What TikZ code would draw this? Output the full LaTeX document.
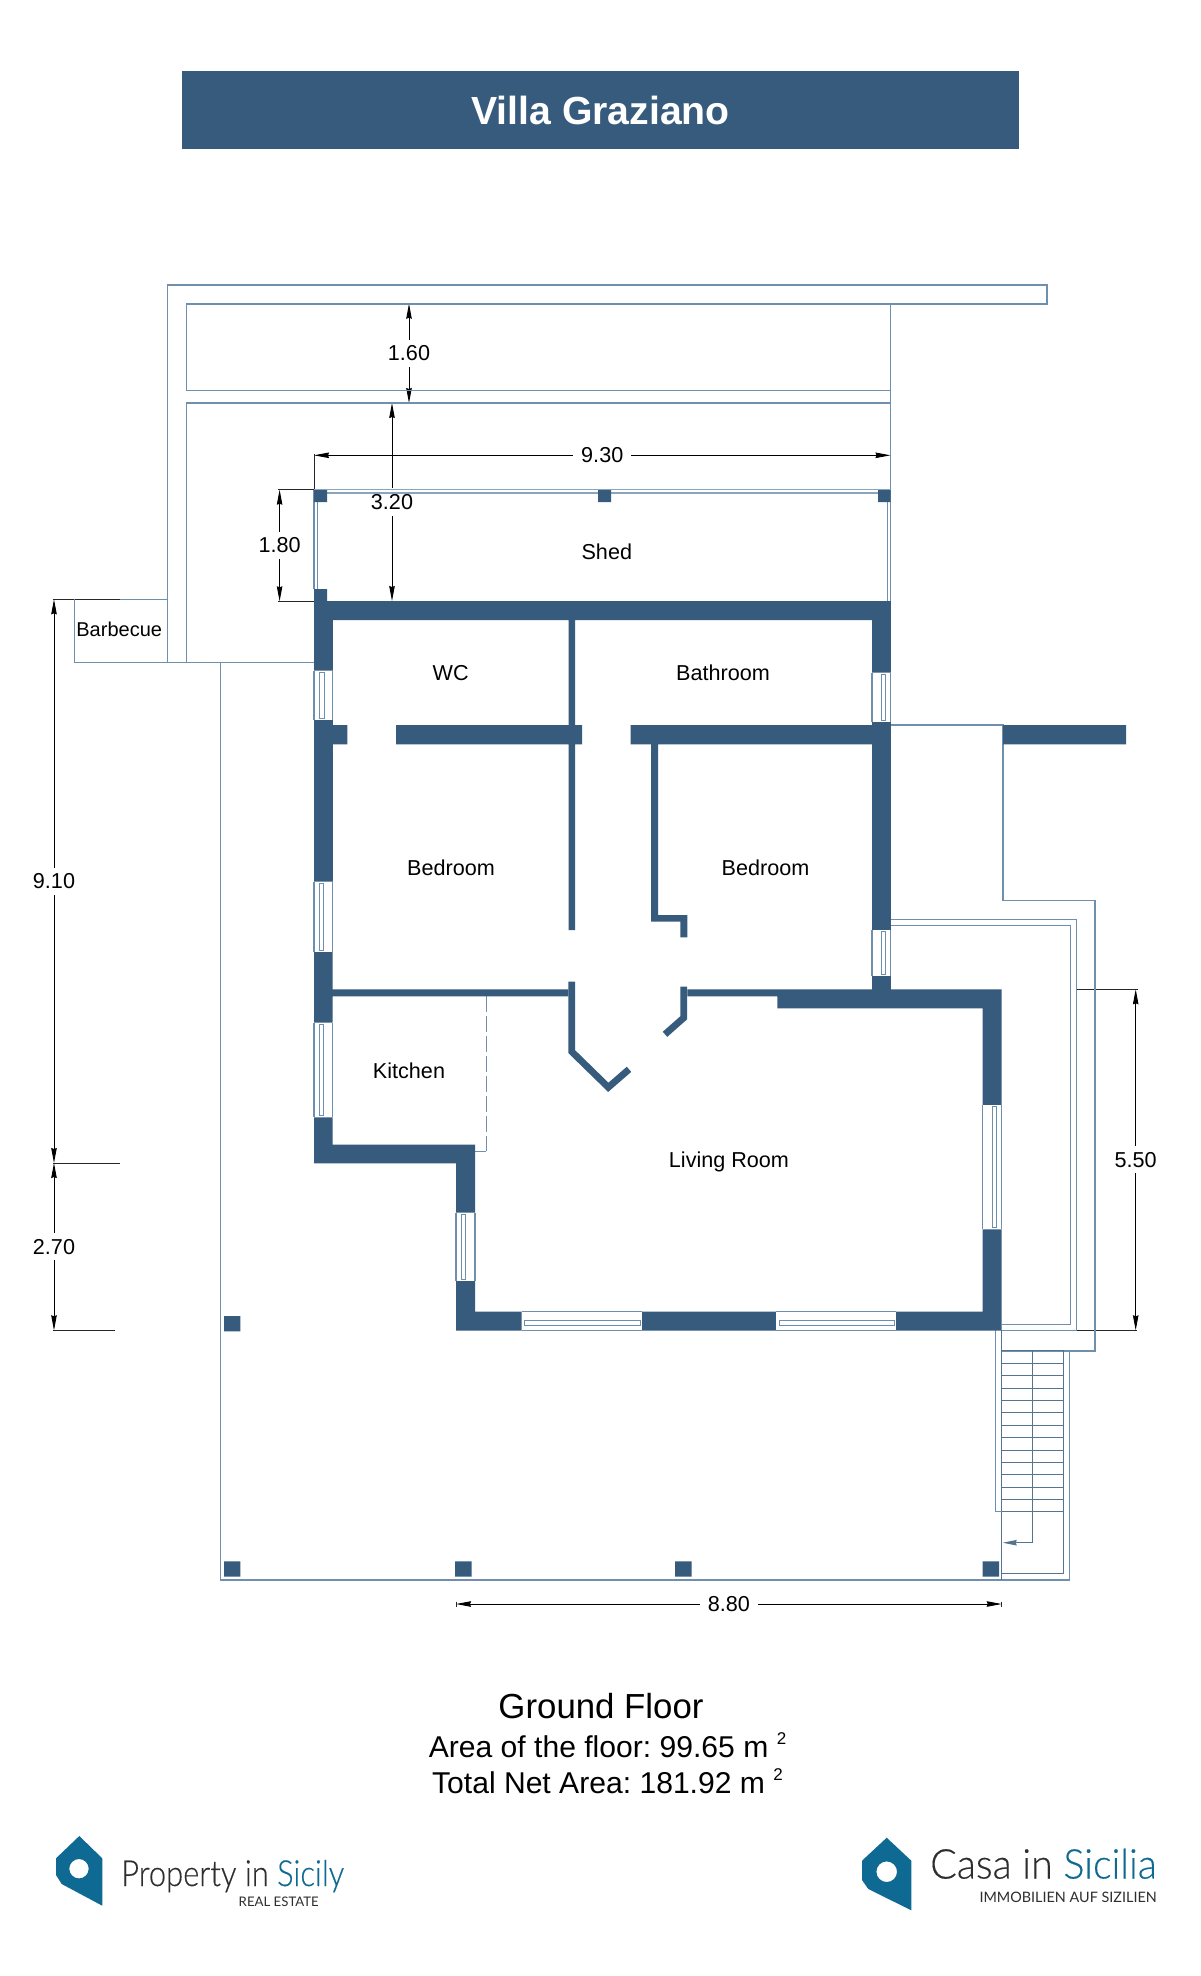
\documentclass[tikz,border=0pt]{standalone}
\usepackage{fontspec}
\setmainfont{Liberation Sans}
\newfontfamily\logofont[FakeBold=0.35]{Lato Light}
\newfontfamily\logosub{Lato}
\usetikzlibrary{arrows.meta}
\definecolor{wallc}{HTML}{365B7C}
\definecolor{linec}{HTML}{6E8FAD}
\definecolor{teal}{HTML}{0F6A93}
\definecolor{logodark}{HTML}{2E2E2E}
\newcommand{\fsz}[1]{\fontsize{#1}{#1}\selectfont}
\frenchspacing
\tikzset{
  x=1pt,y=-1pt,
  thin line/.style={draw=linec,line width=1.1pt},
  light line/.style={draw=linec!80,line width=1.3pt},
  stair line/.style={draw=wallc!85,line width=0.9pt},
  wall/.style={fill=wallc},
  wallstroke/.style={draw=wallc,line width=6.8pt,miter limit=10},
  dimline/.style={draw=black,line width=0.9pt,{Stealth[length=15pt,width=5.5pt,inset=1pt]}-{Stealth[length=15pt,width=5.5pt,inset=1pt]}},
  extline/.style={draw=black!85,line width=0.9pt},
  dimlabel/.style={fill=white,inner xsep=7pt,inner ysep=6pt,font=\fsz{21.6},text=black},
  room/.style={font=\fsz{21.6},text=black,inner sep=0pt},
}
% x1 x2 y1 y2 inner-left : vertical window
\newcommand{\vwin}[5]{%
  \fill[white] (#1,#3) rectangle (#2,#4);
  \draw[thin line] (#1,#3) -- (#1,#4) (#2,#3) -- (#2,#4);
  \draw[thin line,line width=0.8pt] (#5,#3+1.5) rectangle (#5+4.4,#4-1.5);
}
% x1 x2 y1 y2 inner-top : horizontal window
\newcommand{\hwin}[5]{%
  \fill[white] (#1,#3) rectangle (#2,#4);
  \draw[thin line] (#1,#3) -- (#2,#3) (#1,#4) -- (#2,#4);
  \draw[thin line,line width=0.8pt] (#1+3,#5) rectangle (#2-1.5,#5+4.6);
}
\begin{document}
\begin{tikzpicture}
\useasboundingbox[fill=white] (0,0) rectangle (1200,1976);

% title
\node[fill=wallc,minimum width=837pt,minimum height=78.5pt,inner sep=0pt,text=white,font=\bfseries\fsz{39.2}] (title) at (600.5,110) {Villa Graziano};

% dimension lines
\coordinate (d160a) at (409,303.7); \coordinate (d160b) at (409,403);
\draw[dimline] (d160a) -- (d160b) node[midway,dimlabel] (l160) {1.60};
\coordinate (d320a) at (392,403); \coordinate (d320b) at (392,601);
\draw[dimline] (d320a) -- (d320b) node[midway,dimlabel] (l320) {3.20};
\coordinate (d930a) at (314,455.3); \coordinate (d930b) at (890.5,455.3);
\draw[dimline] (d930a) -- (d930b) node[midway,dimlabel,inner xsep=8pt] (l930) {9.30};
\draw[extline] (314,454) -- (314,490) (890.5,454) -- (890.5,490);
\coordinate (d180a) at (279.6,489.7); \coordinate (d180b) at (279.6,601.3);
\draw[dimline] (d180a) -- (d180b) node[midway,dimlabel] (l180) {1.80};
\draw[extline] (278,489.7) -- (314,489.7) (278,601.3) -- (314,601.3);
\coordinate (d910a) at (54,599.3); \coordinate (d910b) at (54,1163);
\draw[dimline] (d910a) -- (d910b) node[midway,dimlabel] (l910) {9.10};
\coordinate (d270b) at (54,1330.3);
\draw[dimline] (d910b) -- (d270b) node[midway,dimlabel] (l270) {2.70};
\draw[extline] (52.6,599.3) -- (119.6,599.3) (52.6,1163) -- (120,1163) (52.6,1330.3) -- (115,1330.3);
\coordinate (d550a) at (1135.7,989.3); \coordinate (d550b) at (1135.7,1330.3);
\draw[dimline] (d550a) -- (d550b) node[midway,dimlabel] (l550) {5.50};
\draw[extline] (1076.3,989.3) -- (1137.7,989.3) (1076.3,1330.3) -- (1137,1330.3);
\coordinate (d880a) at (456,1604); \coordinate (d880b) at (1001.7,1604);
\draw[dimline] (d880a) -- (d880b) node[midway,dimlabel,inner xsep=8pt] (l880) {8.80};
\draw[extline] (456,1601.5) -- (456,1606.5) (1001.7,1601.5) -- (1001.7,1606.5);

% thin outlines
\draw[thin line] (167.4,662.3) -- (167.4,285) -- (1047,285) -- (1047,304) -- (186.2,304) -- (186.2,390.7) -- (890.5,390.7);
\draw[thin line] (890.5,304) -- (890.5,601);
\draw[thin line] (890.5,403) -- (186.2,403) -- (186.2,662.3);
\draw[thin line] (119.6,599.3) -- (167.4,599.3);
\draw[thin line] (74.4,599.3) -- (74.4,662.3) -- (314,662.3);
\draw[thin line] (220.6,662.3) -- (220.6,1580) -- (1069.3,1580) -- (1069.3,1350.7);
% shed
\draw[light line] (314,489.7) -- (890.5,489.7) (317,493) -- (878,493);
\draw[thin line] (314,490) -- (314,589) (317.5,493) -- (317.5,589);
\draw[thin line] (887.4,502) -- (887.4,601);
% right side outlines
\draw[thin line] (890.8,725) -- (1003,725) -- (1003,900.7) -- (1095,900.7) -- (1095,1351) -- (1001.7,1351);
\draw[thin line] (890.7,919.3) -- (1076.3,919.3) -- (1076.3,1330.3) -- (1001.7,1330.3);
\draw[thin line] (890.7,925.3) -- (1070.3,925.3) -- (1070.3,1324.3) -- (1001.7,1324.3);
% stairs
\draw[thin line] (995.3,1330) -- (995.3,1511.7);
\draw[stair line] (1001.7,1330) -- (1001.7,1580);
\foreach \sy in {1350.7,1363.1,1375.6,1388,1400.4,1412.8,1425.2,1437.6,1450,1462.4,1474.8,1487.2,1499.6,1511.7}
  \draw[stair line] (1001.7,\sy) -- (1063.7,\sy);
\draw[thin line] (995.3,1511.7) -- (1001.7,1511.7);
\draw[stair line] (1063.7,1350.7) -- (1063.7,1573.7) -- (1001.7,1573.7);
\draw[stair line,-{Stealth[length=14pt,width=5.5pt,inset=1pt]}] (1032.7,1350.7) -- (1032.7,1542.7) -- (1002.7,1542.7);
% kitchen dashed
\draw[thin line,line width=0.9pt,dash pattern=on 16pt off 4pt] (486.3,996.3) -- (486.3,1151.3);
\draw[thin line,line width=0.9pt] (486.3,1151.3) -- (475,1151.3);

% walls
\fill[wall]
  (314,601) rectangle (890.8,620)
  (314,589) rectangle (327,601)
  (314,620) rectangle (332.8,670.7)
  (314,720) rectangle (332.8,881.6)
  (332.8,725) rectangle (347.3,744.3)
  (396,725) rectangle (582,744.3)
  (630.6,725) rectangle (872,744.3)
  (1003,725) rectangle (1126,744.3)
  (568.5,620) rectangle (575.2,930)
  (651,744.3) rectangle (658,921.7)
  (651,915) rectangle (687.3,921.7)
  (680.3,915) rectangle (687.3,937.3)
  (314,951.7) rectangle (332.7,1022.7)
  (314,1117.3) rectangle (332.7,1163.3)
  (314,1144.7) rectangle (475,1163.3)
  (456,1144.7) rectangle (475,1212.7)
  (456,1281) rectangle (475,1330.7)
  (456,1311.7) rectangle (521.7,1330.7)
  (642,1311.7) rectangle (776,1330.7)
  (896,1311.7) rectangle (1001.7,1330.7)
  (982.7,989.3) rectangle (1001.7,1105)
  (982.7,1229.3) rectangle (1001.7,1330.7)
  (777.3,989.3) rectangle (1001.7,1008.3)
  (332.7,989.3) rectangle (568.3,996.3)
  (687.3,989.3) rectangle (777.3,996.3)
  (872,620) rectangle (890.8,672.7)
  (872,721.7) rectangle (890.8,930)
  (872,976) rectangle (890.8,989.3);
\draw[wallstroke] (571.8,981.7) -- (571.8,1051.7) -- (608.3,1087.3) -- (629,1069.3);
\draw[wallstroke] (683.8,986.7) -- (683.8,1017.7) -- (665,1034.3);

% piers
\fill[wall]
  (314,490) rectangle (327,502)
  (598,490) rectangle (611,502)
  (878,490) rectangle (890.5,502)
  (224,1316) rectangle (240.3,1331.3)
  (224,1561.3) rectangle (240.3,1576.7)
  (455.2,1561.3) rectangle (471.5,1576.7)
  (675.2,1561.3) rectangle (691.5,1576.7)
  (982.7,1561.3) rectangle (999,1576.7);

% windows
\vwin{314}{332.8}{670.7}{720}{319.6}
\vwin{314}{332.8}{881.6}{951.7}{319.4}
\vwin{314}{332.8}{1022.7}{1117.3}{319.4}
\vwin{456}{475}{1212.7}{1281}{461.3}
\vwin{872}{890.8}{672.7}{721.7}{881.3}
\vwin{872}{890.8}{930}{976}{881.3}
\vwin{982.7}{1001.7}{1105}{1229.3}{992.3}
\hwin{521.7}{642}{1311.7}{1330.7}{1320.7}
\hwin{776}{896}{1311.7}{1330.7}{1320.7}

% room labels
\node[room] (shed) at (606.8,552) {Shed};
\node[room] (wc) at (450.6,673.5) {WC};
\node[room] (bath) at (723,673) {Bathroom};
\node[room] (bed1) at (451,867.7) {Bedroom};
\node[room] (bed2) at (765.5,867.7) {Bedroom};
\node[room] (kit) at (409,1070.7) {Kitchen};
\node[room] (liv) at (729,1162) {Living Room};
\node[room,font=\fsz{20}] (bbq) at (119.2,629.5) {Barbecue};

% caption
\node[inner sep=0pt,font=\fsz{34.8}] (c1) at (601,1706) {Ground Floor};
\node[inner sep=0pt,font=\fsz{30.1}] (c2) at (607.5,1745) {Area of the floor: 99.65 m \raisebox{13pt}{\fsz{17}2}};
\node[inner sep=0pt,font=\fsz{30.1}] (c3) at (607.5,1781) {Total Net Area: 181.92 m \raisebox{13pt}{\fsz{17}2}};

% logos
\fill[teal,even odd rule] (79.3,1836) -- (102.3,1858.3) -- (102.3,1905.7) -- (61.7,1884) -- (56,1875) -- (56,1858.3) -- cycle
  (79,1868.7) circle (9.7);
\node[anchor=base west,inner sep=0pt,font=\logofont\fsz{36},text=logodark] (p1) at (121,1886) {\scalebox{0.86}[1]{Property in \textcolor{teal}{Sicily}}};
\node[anchor=base east,inner sep=0pt,font=\logosub\fsz{13.2},text=logodark] (p2) at (319,1906) {REAL ESTATE};
\fill[teal,even odd rule] (886.7,1837.7) -- (911.3,1860.7) -- (911.3,1910.3) -- (868.3,1889) -- (862,1880) -- (862,1860.7) -- cycle
  (886.7,1871.7) circle (10.3);
\node[anchor=base east,inner sep=0pt,font=\logofont\fsz{41},text=logodark] (q1) at (1157,1878.5) {\scalebox{0.96}[1]{Casa in \textcolor{teal}{Sicilia}}};
\node[anchor=base east,inner sep=0pt,font=\logosub\fsz{14.4},text=logodark] (q2) at (1157,1902.5) {IMMOBILIEN AUF SIZILIEN};
\end{tikzpicture}
\end{document}
